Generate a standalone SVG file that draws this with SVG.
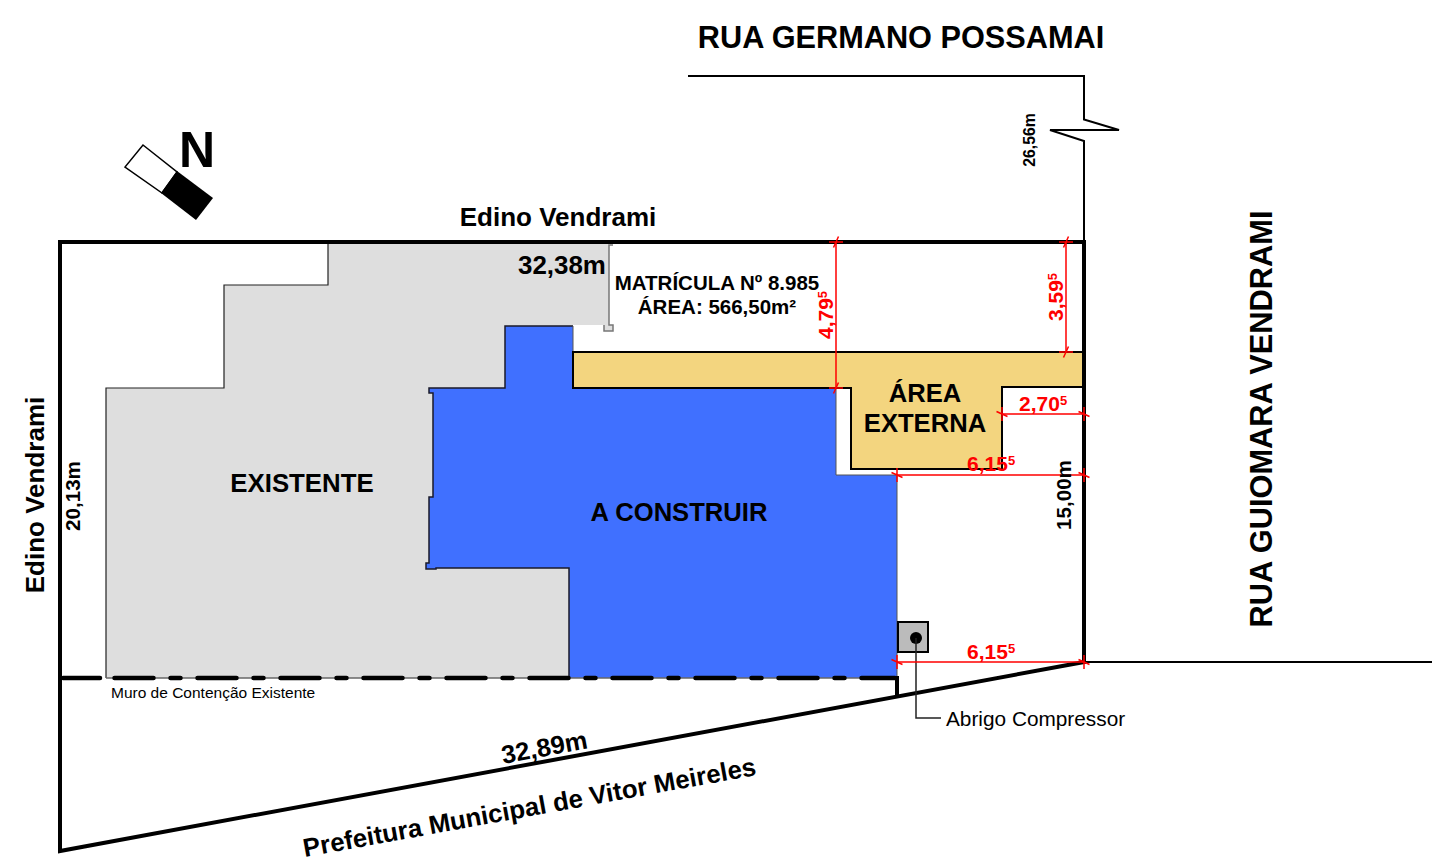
<svg xmlns="http://www.w3.org/2000/svg" width="1432" height="859" viewBox="0 0 1432 859">
<style>
text{font-family:"Liberation Sans",Arial,sans-serif;font-weight:700;fill:#000}
.reg{font-weight:400}
.red{fill:#ff0000;font-size:21px}
.sup{font-size:13px}
.dim{stroke:#ff0000;stroke-width:1.5;fill:none}
.thick{stroke:#000;stroke-width:4;fill:none}
.line{stroke:#000;stroke-width:2;fill:none}
.muro{stroke:#000;stroke-width:4.500;stroke-linecap:round;fill:none}
</style>
<defs>
<g id="tick"><path class="dim" d="M-7 0H7M-2.500 5.500L2.500 -5.500"/></g>
</defs>
<rect width="1432" height="859" fill="#fff"/>
<g id="existente">
<path d="M106 678V388H224V285H328V244H609V325H613V331H604V325H573V388H445V568H569V678Z" fill="#dedede" stroke="none"/>
<path d="M106 678V388H224V285H328V244" fill="none" stroke="#222" stroke-width="1.200"/>
<path d="M613 245H609V325H613V331H604V325" fill="none" stroke="#777" stroke-width="1.500"/>
<text x="302" y="492" font-size="25.800" text-anchor="middle">EXISTENTE</text>
</g>
<g id="a-construir">
<path d="M505 326H573V388H836V475H897V678H569V568H436V569H426V563H429V497H433V393H429V388H505Z" fill="#4070ff"/>
<path d="M573 326H505V388H429V393H433V497H429V563H426V569H436V568H569V678" fill="none" stroke="#1a1a2a" stroke-width="1.500"/>
<path d="M573 326V352M836 388V475H897V678" fill="none" stroke="#555" stroke-width="1"/>
<text x="679" y="521" font-size="25.600" text-anchor="middle">A CONSTRUIR</text>
</g>
<g id="area-externa">
<path d="M573 352H1084V387H1002V469H851V388H573Z" fill="#f3d57f" stroke="#000" stroke-width="2"/>
<text x="925" y="402" font-size="25.600" text-anchor="middle">ÁREA</text>
<text x="925" y="432" font-size="25.600" text-anchor="middle">EXTERNA</text>
</g>
<g id="lote">
<path d="M106 678H897" fill="none" stroke="#666" stroke-width="1.500"/>
<path class="thick" d="M60 242H1084V662L60 851Z"/>
<path class="line" d="M1084 662H1432M688 76H1084V119.500L1119 130H1050L1084 141V242"/>
<path class="muro" d="M63 678H100"/>
<path class="muro" d="M114.500 678H895" stroke-dasharray="39 17 10 17"/>
<path class="thick" d="M897 676V696"/>
</g>
<g id="abrigo-compressor">
<rect x="898" y="622" width="30" height="30" fill="#bbb" stroke="#000" stroke-width="2"/>
<circle cx="916" cy="638" r="6" fill="#000"/>
<path d="M916 638V718H941" fill="none" stroke="#222" stroke-width="1.500"/>
<text class="reg" x="946" y="726" font-size="20.800">Abrigo Compressor</text>
</g>
<g id="norte">
<path d="M143 145L177 172L162 193L125 167Z" fill="#fff" stroke="#000" stroke-width="1.500"/>
<path d="M177 171L213 198L196 220L161 193Z" fill="#000"/>
<text x="197" y="167" font-size="50" text-anchor="middle">N</text>
</g>
<g id="cotas">
<path class="dim" d="M836 242V388M1066 242V352M1002 414H1084M897 475H1084M897 662H1084"/>
<use href="#tick" x="836" y="242"/><use href="#tick" x="836" y="388"/>
<use href="#tick" x="1066" y="242"/><use href="#tick" x="1066" y="352"/>
<g transform="rotate(90 1002 414)"><use href="#tick" x="1002" y="414"/></g>
<g transform="rotate(90 1084 414)"><use href="#tick" x="1084" y="414"/></g>
<g transform="rotate(90 897 475)"><use href="#tick" x="897" y="475"/></g>
<g transform="rotate(90 1084 475)"><use href="#tick" x="1084" y="475"/></g>
<g transform="rotate(90 897 662)"><use href="#tick" x="897" y="662"/></g>
<g transform="rotate(90 1084 662)"><use href="#tick" x="1084" y="662"/></g>
<text class="red" transform="translate(833 339) rotate(-90)">4,79<tspan class="sup" dy="-6">5</tspan></text>
<text class="red" transform="translate(1063 321) rotate(-90)">3,59<tspan class="sup" dy="-6">5</tspan></text>
<text class="red" x="1019" y="411">2,70<tspan class="sup" dy="-6">5</tspan></text>
<text class="red" x="967" y="471">6,15<tspan class="sup" dy="-6">5</tspan></text>
<text class="red" x="967" y="659">6,15<tspan class="sup" dy="-6">5</tspan></text>
</g>
<g id="textos">
<text x="901" y="48" font-size="30.700" text-anchor="middle">RUA GERMANO POSSAMAI</text>
<text transform="translate(1272 419) rotate(-90)" font-size="30.800" text-anchor="middle">RUA GUIOMARA VENDRAMI</text>
<text x="558" y="226" font-size="26" text-anchor="middle">Edino Vendrami</text>
<text transform="translate(44 495) rotate(-90)" font-size="26" text-anchor="middle">Edino Vendrami</text>
<text x="518" y="274" font-size="25.900">32,38m</text>
<text x="717" y="290" font-size="20.500" text-anchor="middle">MATRÍCULA Nº 8.985</text>
<text x="717" y="314" font-size="20.500" text-anchor="middle">ÁREA: 566,50m²</text>
<text transform="translate(80 496) rotate(-90)" font-size="20.600" text-anchor="middle">20,13m</text>
<text transform="translate(1071 495) rotate(-90)" font-size="20.600" text-anchor="middle">15,00m</text>
<text transform="translate(1035 140) rotate(-90)" font-size="15.800" text-anchor="middle">26,56m</text>
<text class="reg" x="111" y="698" font-size="15.500">Muro de Contenção Existente</text>
<text transform="translate(546 756) rotate(-10.500)" font-size="25.600" text-anchor="middle">32,89m</text>
<text transform="translate(531 816) rotate(-10.300)" font-size="25.800" text-anchor="middle">Prefeitura Municipal de Vitor Meireles</text>
</g>
</svg>
